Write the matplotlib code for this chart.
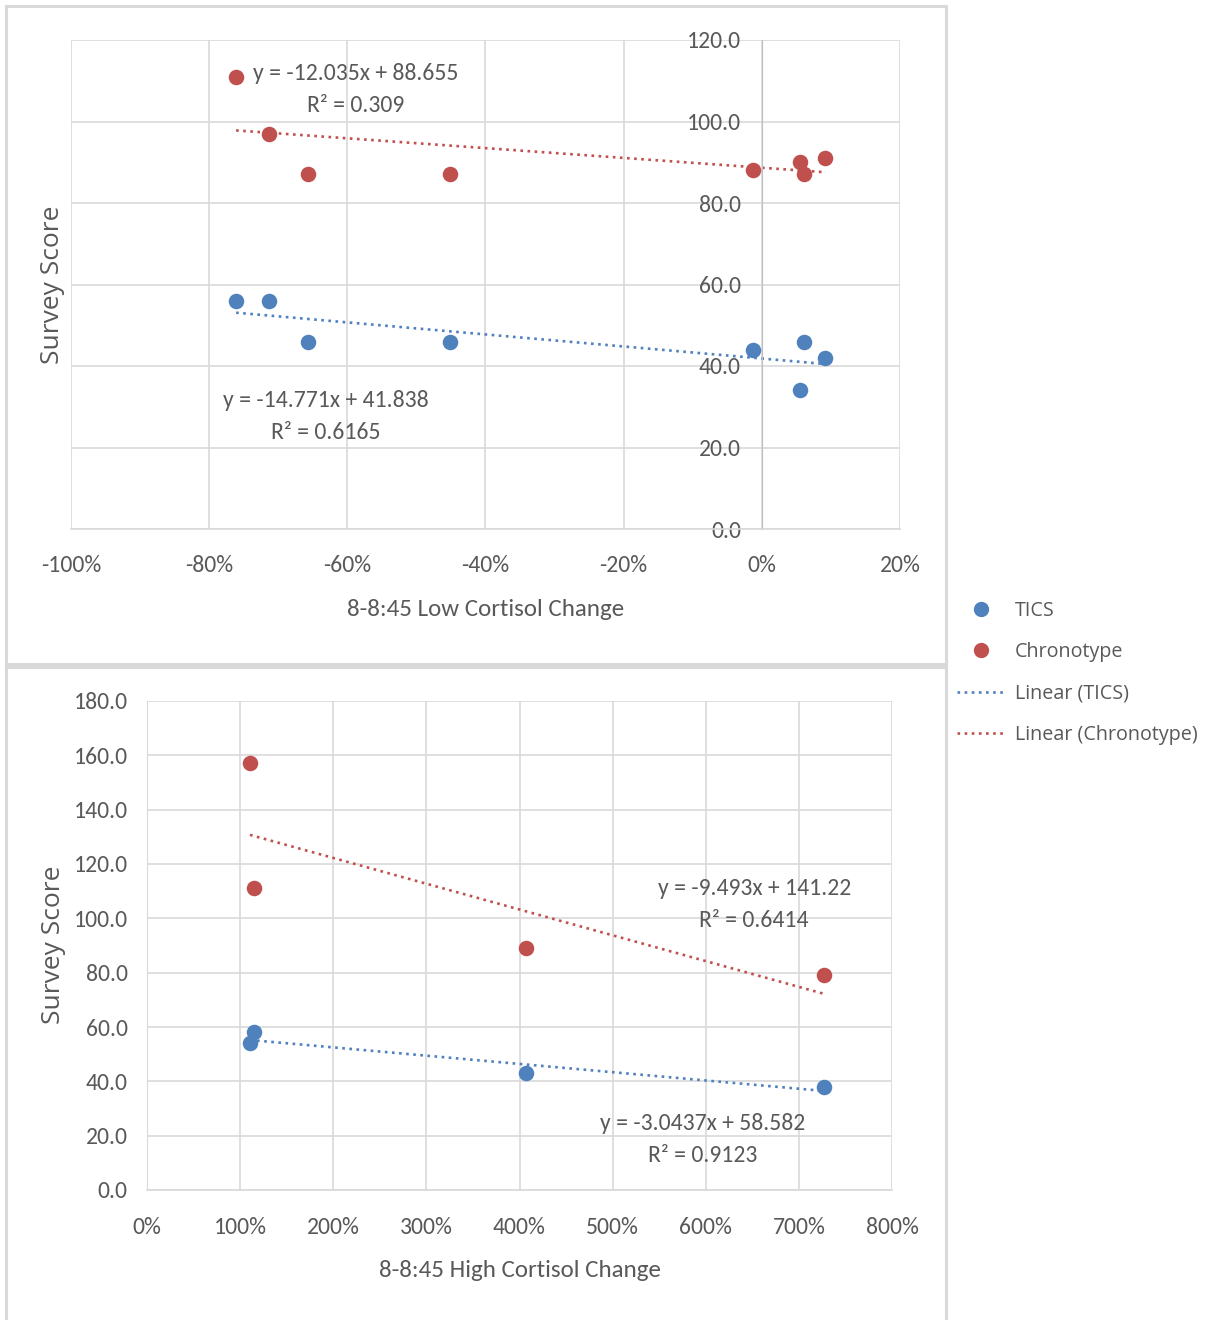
import matplotlib
matplotlib.use("Agg")
import matplotlib.pyplot as plt
from matplotlib import font_manager as fm
from matplotlib.lines import Line2D
from matplotlib.patches import Rectangle
import matplotlib.ticker as mtick
import numpy as np

plt.rcParams['axes.unicode_minus'] = False

# top chart: 8-8:45 low cortisol change (fraction) vs survey scores
low_change = [-0.761, -0.713, -0.657, -0.452, -0.013, 0.055, 0.061, 0.091]
low_tics = [56, 56, 46, 46, 44, 34, 46, 42]
low_chrono = [111, 97, 87, 87, 88, 90, 87, 91]
low_fit_tics = (-14.771, 41.838, 0.6165)
low_fit_chrono = (-12.035, 88.655, 0.309)

# bottom chart: 8-8:45 high cortisol change
high_change = [1.106, 1.149, 4.07, 7.27]
high_tics = [54, 58, 43, 38]
high_chrono = [157, 111, 89, 79]
high_fit_tics = (-3.0437, 58.582, 0.9123)
high_fit_chrono = (-9.493, 141.22, 0.6414)

BLUE = '#4F81BD'
RED = '#C0504D'
GRID = '#D9D9D9'
TXT = '#595959'

have = {f.name for f in fm.fontManager.ttflist}
def pick(*names):
	return [n for n in names if n in have] + ['DejaVu Sans']

NARROW = pick('Carlito', 'Archivo Narrow')   # stand-in for Calibri Light
UI = pick('Selawik', 'Open Sans')           # stand-in for Segoe UI
NUM = 17
EQ_LS = 1.62

W, H = 1206, 1320
fig = plt.figure(figsize=(W / 100, H / 100), dpi=100)

# panel frames
fig.patches.append(Rectangle((6 / W, 1 - 664 / H), 940 / W, 658 / H, transform=fig.transFigure,
                             fill=False, ec=GRID, lw=2.2, zorder=0))
fig.patches.append(Rectangle((6 / W, -0.05), 940 / W, 1 - 667 / H + 0.05, transform=fig.transFigure,
                             fill=False, ec=GRID, lw=2.2, zorder=0))

pct = mtick.FuncFormatter(lambda v, p: f"{int(round(v * 100))}%")


def eq_text(fit):
	m, b, r2 = fit
	sign = '+' if b >= 0 else '-'
	return f"y = {m:g}x {sign} {abs(b):g}\nR² = {r2:g}"


def draw(ax, x, tics, chrono, fit_t, fit_c):
	ax.scatter(x, tics, s=125, color=BLUE, zorder=3, linewidths=0)
	ax.scatter(x, chrono, s=125, color=RED, zorder=3, linewidths=0)
	xx = np.array([min(x), max(x)])
	for fit, c in ((fit_t, BLUE), (fit_c, RED)):
		ax.plot(xx, fit[0] * xx + fit[1], color=c, lw=1.9, ls=(0, (1, 1.7)),
				dash_capstyle='butt', zorder=2)
	ax.grid(True, color=GRID, lw=1.2)
	ax.set_axisbelow(True)
	for s in ('top', 'right'):
		ax.spines[s].set_visible(False)
	ax.spines['bottom'].set_color(GRID)
	ax.spines['bottom'].set_linewidth(1.2)
	ax.spines['left'].set_color('#BFBFBF')
	ax.tick_params(length=0, labelsize=NUM, labelcolor=TXT)
	ax.yaxis.set_major_formatter(mtick.StrMethodFormatter('{x:.1f}'))
	ax.xaxis.set_major_formatter(pct)


def fonts(ax):
	for lab in ax.get_xticklabels() + ax.get_yticklabels():
		lab.set_family(NARROW)


# top
ax1 = fig.add_axes([71 / W, 1 - 529 / H, 829 / W, 489 / H])
ax1.set_xlim(-1.0, 0.2)
ax1.set_ylim(0, 120)
ax1.set_xticks(np.arange(-1.0, 0.21, 0.2))
ax1.set_yticks(np.arange(0, 121, 20))
draw(ax1, low_change, low_tics, low_chrono, low_fit_tics, low_fit_chrono)
ax1.spines['left'].set_position(('data', 0))
ax1.tick_params(axis='y', pad=15)
ax1.tick_params(axis='x', pad=18.5)
fonts(ax1)
ax1.set_xlabel('8-8:45 Low Cortisol Change', fontsize=18, color=TXT, family=NARROW)
ax1.xaxis.set_label_coords(0.5, -0.164)
ax1.xaxis.label.set_va('center')
ax1.set_ylabel('Survey Score', fontsize=19, color=TXT, family=UI)
ax1.yaxis.set_label_coords(-0.022, 0.499)
ax1.yaxis.label.set_va('center')
ax1.text(-0.588, 107.8, eq_text(low_fit_chrono), ha='center', va='center', fontsize=NUM,
		 color=TXT, family=NARROW, linespacing=EQ_LS, zorder=4)
ax1.text(-0.631, 27.6, eq_text(low_fit_tics), ha='center', va='center', fontsize=NUM,
		 color=TXT, family=NARROW, linespacing=EQ_LS, zorder=4)

# bottom
ax2 = fig.add_axes([147 / W, 1 - 1190 / H, 745 / W, 489 / H])
ax2.set_xlim(0, 8)
ax2.set_ylim(0, 180)
ax2.set_xticks(np.arange(0, 8.1, 1))
ax2.set_yticks(np.arange(0, 181, 20))
draw(ax2, high_change, high_tics, high_chrono, high_fit_tics, high_fit_chrono)
ax2.spines['left'].set_color(GRID)
ax2.tick_params(axis='y', pad=14)
ax2.tick_params(axis='x', pad=19.5)
fonts(ax2)
ax2.set_xlabel('8-8:45 High Cortisol Change', fontsize=18, color=TXT, family=NARROW)
ax2.xaxis.set_label_coords(0.5007, -0.1636)
ax2.xaxis.label.set_va('center')
ax2.set_ylabel('Survey Score', fontsize=19, color=TXT, family=UI)
ax2.yaxis.set_label_coords(-0.126, 0.501)
ax2.yaxis.label.set_va('center')
ax2.text(6.52, 105.0, eq_text(high_fit_chrono), ha='center', va='center', fontsize=NUM,
		 color=TXT, family=NARROW, linespacing=EQ_LS, zorder=4)
ax2.text(5.97, 18.5, eq_text(high_fit_tics), ha='center', va='center', fontsize=NUM,
		 color=TXT, family=NARROW, linespacing=EQ_LS, zorder=4)

# legend shared by both charts
handles = [
	Line2D([], [], ls='none', marker='o', ms=10, color=BLUE),
	Line2D([], [], ls='none', marker='o', ms=10, color=RED),
	Line2D([], [], color=BLUE, lw=1.9, ls=(0, (1, 1.7)), dash_capstyle='butt'),
	Line2D([], [], color=RED, lw=1.9, ls=(0, (1, 1.7)), dash_capstyle='butt'),
]
labels = ['TICS', 'Chronotype', 'Linear (TICS)', 'Linear (Chronotype)']
leg = fig.legend(handles, labels, loc='upper left', bbox_to_anchor=(957 / W, 1 - 601 / H),
				 frameon=False, borderpad=0, borderaxespad=0,
				 handlelength=2.4, handletextpad=0.55, labelspacing=1.08,
				 prop={'family': UI, 'size': 14.2})
for t in leg.get_texts():
	t.set_color(TXT)

fig.savefig('out.png', dpi=100)
